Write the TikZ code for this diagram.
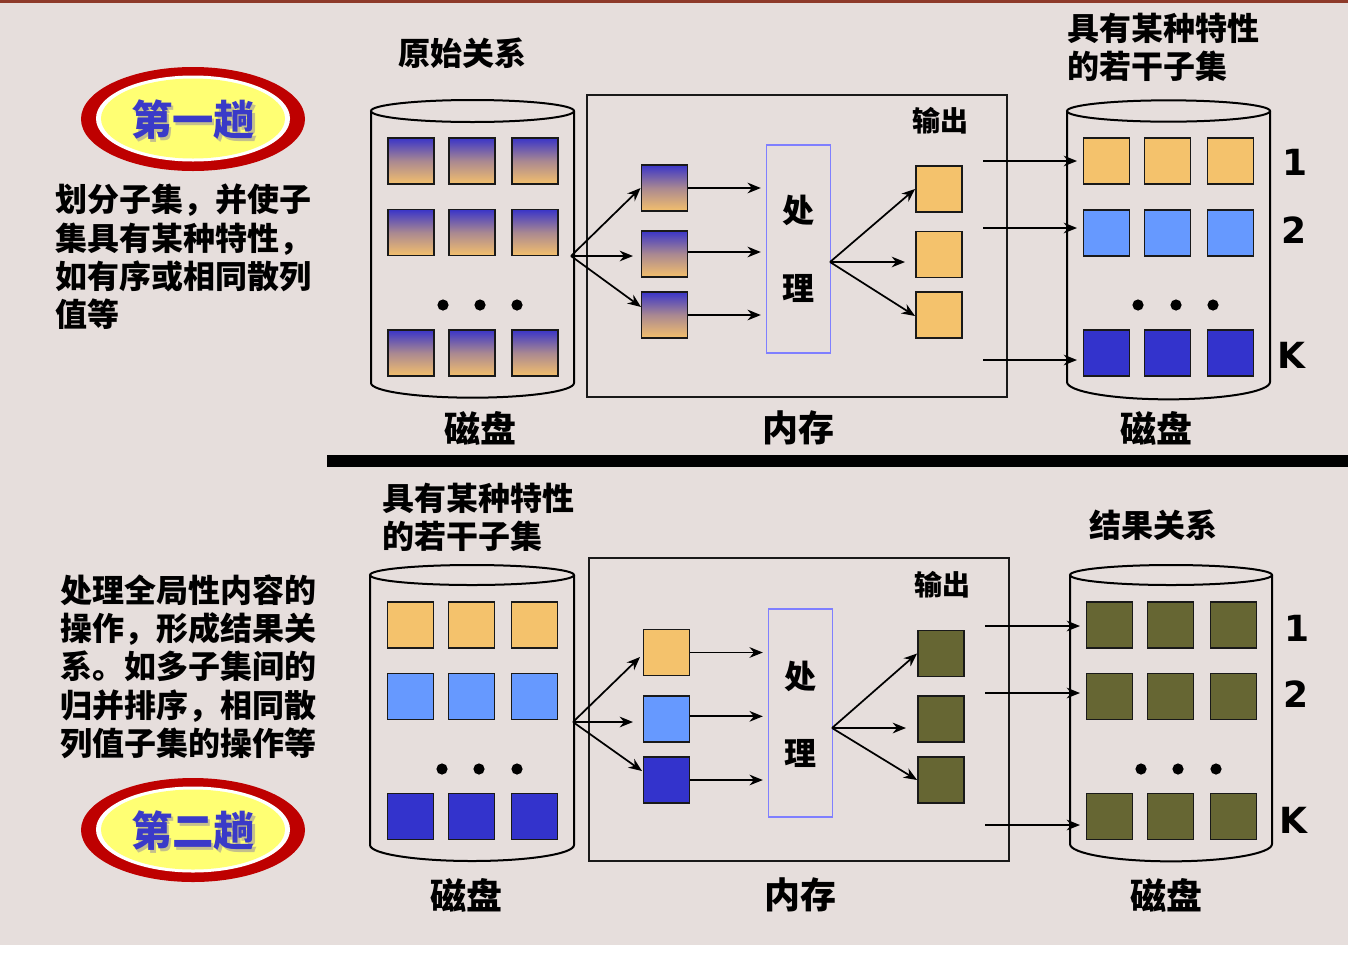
\documentclass[tikz,border=0pt]{standalone}
\usepackage{fontspec}
\setmainfont{Liberation Sans}
\newfontfamily\cjk{Noto Sans CJK SC}
\newfontfamily\numf{DejaVu Sans}
\usetikzlibrary{arrows.meta}
\definecolor{bgc}{HTML}{E6DEDC}
\definecolor{topline}{HTML}{8E3A2A}
\definecolor{ered}{HTML}{BE0000}
\definecolor{eyel}{HTML}{FFFF73}
\definecolor{etxt}{HTML}{3A3AC8}
\definecolor{eshadow}{HTML}{C4C08C}
\definecolor{gblue}{HTML}{3A35C8}
\definecolor{gorg}{HTML}{F4C06C}
\definecolor{org}{HTML}{F4C26C}
\definecolor{lblue}{HTML}{6699FF}
\definecolor{dblue}{HTML}{3333CC}
\definecolor{olive}{HTML}{666633}
\definecolor{pbox}{HTML}{7F7FFF}
\tikzset{
  sq/.style={draw=black!90, line width=1.4pt, minimum size=34.5pt, inner sep=0pt},
  gsq/.style={sq, top color=gblue, bottom color=gorg, middle color=gblue!40!gorg},
  osq/.style={sq, fill=org},
  lsq/.style={sq, fill=lblue},
  dsq/.style={sq, fill=dblue},
  vsq/.style={sq, fill=olive},
  arr/.style={-{Stealth[length=10pt,width=8pt]}, line width=1.3pt},
  cyl/.style={line width=1.5pt},
  txt/.style={font=\cjk\bfseries\fontsize{24pt}{28.7pt}\selectfont, inner sep=0pt, align=left},
  big/.style={font=\cjk\bfseries\fontsize{27pt}{30pt}\selectfont, inner sep=0pt},
  outl/.style={font=\cjk\bfseries\fontsize{21pt}{24pt}\selectfont, inner sep=0pt},
  numl/.style={font=\numf\bfseries\fontsize{27pt}{30pt}\selectfont, inner sep=0pt},
  ttl/.style={font=\cjk\bfseries\fontsize{31pt}{34pt}\selectfont, inner sep=0pt},
  mem/.style={draw=black!90, line width=1.3pt, minimum width=315pt, inner sep=0pt},
  proc/.style={draw=pbox, line width=1pt, minimum width=48pt, minimum height=156pt, inner sep=0pt},
  dot/.style={circle, fill=black, inner sep=0pt, minimum size=8.4pt}
}
\begin{document}
\begin{tikzpicture}[x=0.75pt,y=-0.75pt]
\useasboundingbox (0,0) rectangle (1348,961);
\fill[bgc] (0,0) rectangle (1348,945);
\fill[white] (0,945) rectangle (1348,961);
\fill[topline] (0,0) rectangle (1348,3);

% ---------- first pass title ----------
\fill[ered] (193,119) ellipse [x radius=84pt, y radius=39pt];
\fill[white] (193,118.5) ellipse [x radius=72.75pt, y radius=32.25pt];
\fill[eyel] (193,118.5) ellipse [x radius=69pt, y radius=30pt];
\node[ttl, text=eshadow] (e1s) at (195.5,122.5) {第一趟};
\node[ttl, text=etxt] (e1) at (193,120) {第一趟};

\node[txt, anchor=west] (d1) at (55,257) {划分子集，并使子\\集具有某种特性，\\如有序或相同散列\\值等};

\node[txt] (t1) at (462,53) {原始关系};
\node[txt, anchor=west] (t2) at (1067,47.5) {具有某种特性\\的若干子集};

% ---------- top: left cylinder ----------
\draw[cyl] (472.5,111) ellipse [x radius=76.125pt, y radius=8.25pt];
\draw[cyl] (371,111) -- (371,383) arc[start angle=180,end angle=360,x radius=76.125pt,y radius=11pt] -- (574,111);
\foreach \r/\y in {1/161,2/232.5,3/353}{
  \node[gsq] (a\r1) at (411,\y) {};
  \node[gsq] (a\r2) at (472,\y) {};
  \node[gsq] (a\r3) at (535,\y) {};
}
\node[dot] (ad1) at (443,305) {};
\node[dot] (ad2) at (480,305) {};
\node[dot] (ad3) at (517,305) {};
\node[big] (l1) at (480,428) {磁盘};

% ---------- top: memory ----------
\node[mem, minimum height=226.5pt] (mem1) at (797,246) {};
\node[big] (l2) at (798,428) {内存};
\node[gsq] (m1) at (664.5,188) {};
\node[gsq] (m2) at (664.5,254) {};
\node[gsq] (m3) at (664.5,315) {};
\node[proc] (p1) at (798.5,249) {};
\node[txt] (p1a) at (798,210) {处};
\node[txt] (p1b) at (798,288) {理};
\node[osq] (o1) at (939,189) {};
\node[osq] (o2) at (939,254.5) {};
\node[osq] (o3) at (939,315) {};
\node[outl] (out1) at (940,121) {输出};

\coordinate (f1) at (571,256);
\coordinate (f1m) at (633,256);
\coordinate (f1b) at (641,307);
\draw[arr] (f1) -- (m1.west);
\draw[arr] (f1) -- (f1m);
\draw[arr] (f1) -- (f1b);
\draw[arr, shorten >=3.75pt] (m1.east) -- (m1.east -| p1.west);
\draw[arr, shorten >=3.75pt] ([yshift=1.5pt]m2.east) -- ([yshift=1.5pt]m2.east -| p1.west);
\draw[arr, shorten >=3.75pt] (m3.east) -- (m3.east -| p1.west);
\coordinate (f2) at (830,262);
\coordinate (f2m) at (905,262);
\draw[arr] (f2) -- (o1.west);
\draw[arr] (f2) -- (f2m);
\draw[arr] (f2) -- ([yshift=-0.75pt]o3.west);

% ---------- top: right cylinder ----------
\draw[cyl] (1168.5,111) ellipse [x radius=76.125pt, y radius=8pt];
\draw[cyl] (1067,111) -- (1067,382) arc[start angle=180,end angle=360,x radius=76.125pt,y radius=13pt] -- (1270,111);
\foreach \r/\y/\s in {1/161/osq,2/233/lsq,3/353/dsq}{
  \node[\s] (b\r1) at (1106.5,\y) {};
  \node[\s] (b\r2) at (1167.5,\y) {};
  \node[\s] (b\r3) at (1230.5,\y) {};
}
\node[dot] (bd1) at (1138,305) {};
\node[dot] (bd2) at (1176,305) {};
\node[dot] (bd3) at (1213,305) {};
\node[numl] (n1) at (1295,162) {1};
\node[numl] (n2) at (1294,230) {2};
\node[numl] (n3) at (1291,355) {K};
\node[big] (l3) at (1156,428) {磁盘};
\coordinate (r1s) at (983,161); \coordinate (r1e) at (1077,161);
\coordinate (r2s) at (983,228); \coordinate (r2e) at (1077,228);
\coordinate (r3s) at (983,360); \coordinate (r3e) at (1077,360);
\draw[arr] (r1s) -- (r1e);
\draw[arr] (r2s) -- (r2e);
\draw[arr] (r3s) -- (r3e);

% ---------- separator ----------
\fill (327,455) rectangle (1348,467);

% ---------- second pass ----------
\node[txt, anchor=west] (t3) at (382,517.5) {具有某种特性\\的若干子集};
\node[txt] (t4) at (1153,525) {结果关系};
\node[txt, anchor=west] (d2) at (60,666.5) {处理全局性内容的\\操作，形成结果关\\系。如多子集间的\\归并排序，相同散\\列值子集的操作等};

\fill[ered] (193,830) ellipse [x radius=84pt, y radius=39pt];
\fill[white] (193,829.5) ellipse [x radius=72.75pt, y radius=32.25pt];
\fill[eyel] (193,829.5) ellipse [x radius=69pt, y radius=30pt];
\node[ttl, text=eshadow] (e2s) at (195.5,833.5) {第二趟};
\node[ttl, text=etxt] (e2) at (193,831) {第二趟};

% bottom left cylinder
\draw[cyl] (472,575) ellipse [x radius=76.5pt, y radius=7.5pt];
\draw[cyl] (370,575) -- (370,845) arc[start angle=180,end angle=360,x radius=76.5pt,y radius=12pt] -- (574,575);
\foreach \r/\y/\s in {1/625/osq,2/696.5/lsq,3/816.5/dsq}{
  \node[\s] (c\r1) at (410.5,\y) {};
  \node[\s] (c\r2) at (471.5,\y) {};
  \node[\s] (c\r3) at (534.5,\y) {};
}
\node[dot] (cd1) at (442,769) {};
\node[dot] (cd2) at (479,769) {};
\node[dot] (cd3) at (517,769) {};
\node[big] (l4) at (466,895) {磁盘};

% bottom memory
\node[mem, minimum height=227.25pt] (mem2) at (799,709.5) {};
\node[big] (l5) at (800,895) {内存};
\node[osq] (k1) at (666.5,652.5) {};
\node[lsq] (k2) at (666.5,719) {};
\node[dsq] (k3) at (666.5,780) {};
\node[proc] (p2) at (800.5,713) {};
\node[txt] (p2a) at (800,676) {处};
\node[txt] (p2b) at (800,753) {理};
\node[vsq] (q1) at (941,653.5) {};
\node[vsq] (q2) at (941,719) {};
\node[vsq] (q3) at (941,780) {};
\node[outl] (out2) at (942,585) {输出};

\coordinate (g1) at (573,722);
\coordinate (g1t) at (640,657);
\coordinate (g1m) at (633,722);
\coordinate (g1b) at (642,771);
\draw[arr] (g1) -- (g1t);
\draw[arr] (g1) -- (g1m);
\draw[arr] (g1) -- (g1b);
\draw[arr, shorten >=3.75pt] (k1.east) -- (k1.east -| p2.west);
\draw[arr, shorten >=3.75pt] ([yshift=2pt]k2.east) -- ([yshift=2pt]k2.east -| p2.west);
\draw[arr, shorten >=3.75pt] (k3.east) -- (k3.east -| p2.west);
\coordinate (g2) at (832,728);
\coordinate (g2m) at (906,728);
\draw[arr] (g2) -- (q1.west);
\draw[arr] (g2) -- (g2m);
\draw[arr] (g2) -- (q3.west);

% bottom right cylinder
\draw[cyl] (1171,575) ellipse [x radius=75.75pt, y radius=7.5pt];
\draw[cyl] (1070,575) -- (1070,844) arc[start angle=180,end angle=360,x radius=75.75pt,y radius=13pt] -- (1272,575);
\foreach \r/\y in {1/625,2/696.5,3/816.5}{
  \node[vsq] (h\r1) at (1109.5,\y) {};
  \node[vsq] (h\r2) at (1170.5,\y) {};
  \node[vsq] (h\r3) at (1233.5,\y) {};
}
\node[dot] (hd1) at (1141,769) {};
\node[dot] (hd2) at (1178,769) {};
\node[dot] (hd3) at (1216,769) {};
\node[numl] (n4) at (1297,628) {1};
\node[numl] (n5) at (1296,694) {2};
\node[numl] (n6) at (1293,820) {K};
\node[big] (l6) at (1166,895) {磁盘};
\coordinate (s1s) at (985,626); \coordinate (s1e) at (1080,626);
\coordinate (s2s) at (985,693); \coordinate (s2e) at (1080,693);
\coordinate (s3s) at (985,825); \coordinate (s3e) at (1080,825);
\draw[arr] (s1s) -- (s1e);
\draw[arr] (s2s) -- (s2e);
\draw[arr] (s3s) -- (s3e);
\end{tikzpicture}
\end{document}
